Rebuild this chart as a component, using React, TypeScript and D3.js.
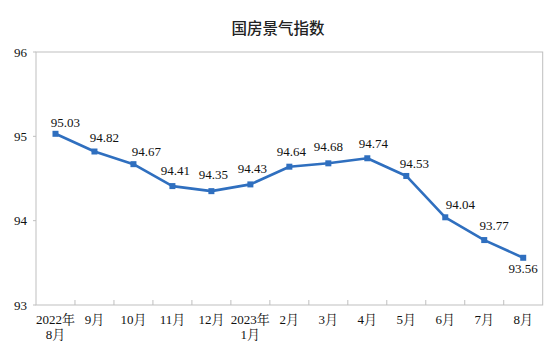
import React from "react";
import * as d3 from "d3";

const categories = ["2022年\n8月", "9月", "10月", "11月", "12月", "2023年\n1月", "2月", "3月", "4月", "5月", "6月", "7月", "8月"];
const values = [95.03, 94.82, 94.67, 94.41, 94.35, 94.43, 94.64, 94.68, 94.74, 94.53, 94.04, 93.77, 93.56];
const yTicks = [93, 94, 95, 96];
const title = "国房景气指数";

// label placement (layout only)
const labelDx = [10, 10, 13, 3, 2, 2, 2, 0, 6, 8, 15, 10, 0];
const labelDy = [-7, -10, -8, -11, -12, -11, -11, -12, -10, -8, -8, -10, 15];

const W = 556, H = 360;
const M = { left: 36, right: 13.3, top: 52, bottom: 55 };
const serif = "Liberation Serif, Times New Roman, Noto Serif CJK SC, Noto Sans CJK SC, serif";

export default function App() {
  const x = d3.scaleBand<string>().domain(categories).range([M.left, W - M.right]).padding(0);
  const y = d3.scaleLinear().domain([93, 96]).range([H - M.bottom, M.top]);
  const cx = (c: string) => (x(c) ?? 0) + x.bandwidth() / 2;
  const line = d3.line<number>().x((_, i) => cx(categories[i])).y((v) => y(v));
  const grey = "#bfbfbf";
  const blue = "#2f6fbf";
  const x0 = M.left, x1 = W - M.right, yb = y(93), yt = y(96);
  const serifStyle = { fontFamily: serif, fontSize: 13 } as React.CSSProperties;
  return (
    <svg width={W} height={H} style={{ position: "absolute", left: 0, top: 0 }}>
      <rect width={W} height={H} fill="#fff" />
      <text x={W / 2} y={34} textAnchor="middle" style={{ fontFamily: "Noto Sans CJK SC, sans-serif", fontSize: 15.5, fontWeight: 500 }} fill="#222">{title}</text>
      <rect x={x0} y={yt} width={x1 - x0} height={yb - yt} fill="none" stroke={grey} strokeWidth={1} />
      {yTicks.map((t) => (
        <g key={t}>
          <line x1={x0 - 3} x2={x0} y1={y(t)} y2={y(t)} stroke={grey} />
          <text x={27} y={y(t)} dy="0.35em" textAnchor="end" style={serifStyle} fill="#111">{t}</text>
        </g>
      ))}
      {categories.slice(1).map((c) => (
        <line key={c} x1={x(c)} x2={x(c)} y1={yb} y2={yb - 5} stroke={grey} />
      ))}
      {categories.map((c) => {
        const parts = c.split("\n");
        return (
          <text key={c} x={cx(c)} y={324} textAnchor="middle" style={serifStyle} fill="#111">
            {parts.map((p, i) => (
              <tspan key={i} x={cx(c)} dy={i === 0 ? 0 : 14.5}>{p}</tspan>
            ))}
          </text>
        );
      })}
      <path d={line(values) ?? ""} fill="none" stroke={blue} strokeWidth={2.6} strokeLinejoin="round" />
      {values.map((v, i) => (
        <rect key={i} x={cx(categories[i]) - 3} y={y(v) - 3} width={6} height={6} fill={blue} />
      ))}
      {values.map((v, i) => (
        <text key={"l" + i} x={cx(categories[i]) + labelDx[i]} y={y(v) + labelDy[i]} textAnchor="middle" style={serifStyle} fill="#111">
          {v.toFixed(2)}
        </text>
      ))}
    </svg>
  );
}
